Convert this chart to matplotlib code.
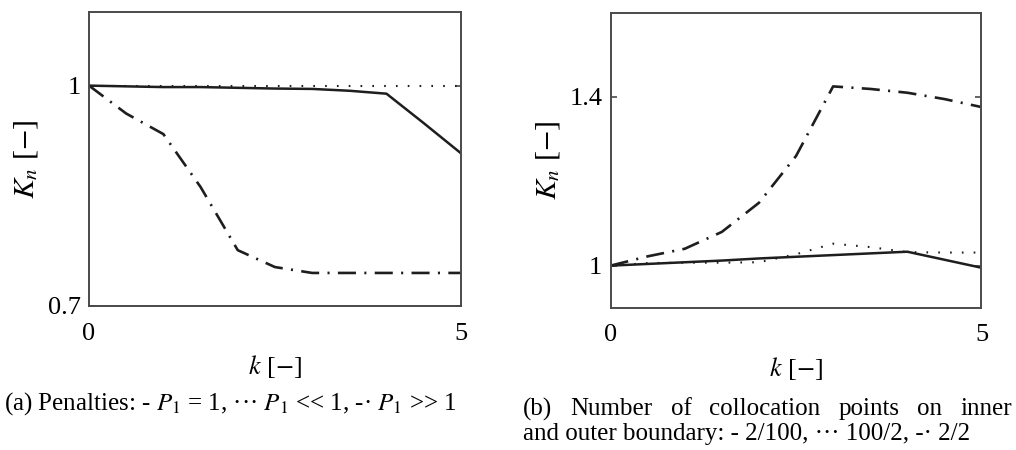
import numpy as np
import matplotlib
matplotlib.use('Agg')
import matplotlib.pyplot as plt

plt.rcParams['font.family'] = ['Liberation Serif', 'DejaVu Serif']
plt.rcParams['mathtext.fontset'] = 'stix'
plt.rcParams['lines.scale_dashes'] = False

# (a) penalties
k_a = [0, 0.5, 1, 1.5, 2, 2.5, 3, 3.5, 4, 4.5, 5]
kn_p_one = [1.0, 0.999, 0.998, 0.998, 0.997, 0.996, 0.9955, 0.993, 0.989, 0.949, 0.908]
kn_p_small = [1.0, 1.0, 1.0, 1.0, 1.0, 1.0, 1.0, 1.0, 1.0, 1.0, 1.0]
kn_p_large = [1.0, 0.962, 0.934, 0.862, 0.776, 0.753, 0.745, 0.745, 0.745, 0.745, 0.745]

# (b) collocation points inner/outer
k_b = [0, 0.5, 1, 1.5, 2, 2.5, 3, 3.5, 4, 4.5, 5]
kn_2_100 = [1.0, 1.004, 1.008, 1.012, 1.017, 1.021, 1.025, 1.029, 1.033, 1.014, 0.995]
kn_100_2 = [1.0, 1.006, 1.007, 1.007, 1.008, 1.027, 1.052, 1.044, 1.032, 1.031, 1.031]
kn_2_2 = [1.0, 1.022, 1.04, 1.08, 1.149, 1.26, 1.425, 1.419, 1.41, 1.395, 1.376]

caption_a = r'(a) Penalties: - $P_{\mathit{1}}$ = 1, ··· $P_{\mathit{1}}$ << 1, -· $P_{\mathit{1}}$ >> 1'
caption_b1 = '(b) Number of collocation points on inner'
caption_b2 = 'and outer boundary: - 2/100, ··· 100/2, -· 2/2'

ink = '#1e1e1e'
solid = dict(color=ink, lw=1.8, ls='-')
dotted = dict(color=ink, lw=1.5, ls=(0, (1.2, 7.3)))
dashdot = dict(color=ink, lw=1.9, ls=(0, (13, 6, 1.5, 6)))

fig = plt.figure(figsize=(10.16, 4.5), dpi=100)
ax1 = fig.add_axes([0.0876, 0.32, 0.366, 0.653])
ax2 = fig.add_axes([0.601, 0.316, 0.365, 0.656])

ax1.plot(k_a, kn_p_one, **solid)
ax1.plot(k_a, kn_p_small, **dotted)
ax1.plot(k_a, kn_p_large, **dashdot)
ax1.set_ylim(0.7, 1.1)
ax1.set_yticks([0.7, 1])
ax1.set_yticklabels(['0.7', '1'])

ax2.plot(k_b, kn_2_100, **solid)
ax2.plot(k_b, kn_100_2, **dotted)
ax2.plot(k_b, kn_2_2, **dashdot)
ax2.set_ylim(0.9, 1.6)
ax2.set_yticks([1, 1.4])
ax2.set_yticklabels(['1', '1.4'])

for ax in (ax1, ax2):
    ax.set_xlim(0, 5)
    ax.set_xticks([0, 5])
    ax.set_xticklabels(['0', '5'])
    for s in ax.spines.values():
        s.set_color('#4a4a4a')
        s.set_linewidth(1.4)
    ax.tick_params(axis='y', direction='in', length=4, width=1.2, colors='#4a4a4a',
                   labelcolor='black', labelsize=19, pad=6, right=True)
    ax.tick_params(axis='x', direction='in', length=0, labelsize=19, pad=12)
    ax.text(-0.17, 0.5, r'$K_n$ [$-$]', transform=ax.transAxes, rotation=90,
            ha='center', va='center', fontsize=21.5)
    ax.text(0.5, -0.205, r'$k$ [$-$]', transform=ax.transAxes,
            ha='center', va='center', fontsize=19)

cap_size = 18
fig.text(0.004, 0.0889, caption_a, ha='left', va='baseline', fontsize=cap_size)
fig.text(0.515, 0.0222, caption_b2, ha='left', va='baseline', fontsize=cap_size)

# first line of (b) is justified across the column
renderer = fig.canvas.get_renderer()
words = caption_b1.split()
x0, x1 = 0.515 * 1016, 1012
items = [fig.text(0, 0.0767, w, ha='left', va='baseline', fontsize=cap_size) for w in words]
widths = [t.get_window_extent(renderer).width for t in items]
gap = (x1 - x0 - sum(widths)) / (len(words) - 1)
x = x0
for t, w in zip(items, widths):
    t.set_x(x / 1016)
    x += w + gap

plt.savefig('out.png', dpi=100)
